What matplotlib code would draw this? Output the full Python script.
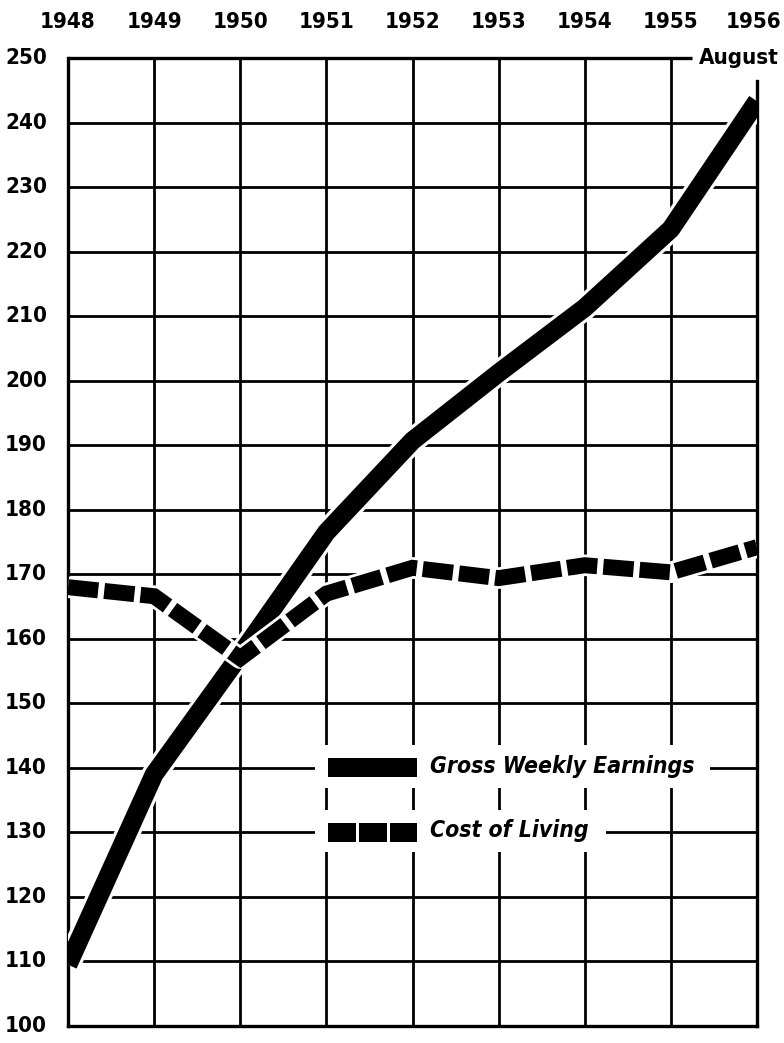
import matplotlib
matplotlib.use("Agg")
import matplotlib.pyplot as plt
from matplotlib.patches import Rectangle

years = [1948, 1949, 1950, 1951, 1952, 1953, 1954, 1955, 1956]
earnings = [109.5, 139.0, 157.5, 176.5, 190.7, 201.2, 211.3, 223.5, 243.3]
cost_of_living = [168.0, 166.6, 157.0, 167.0, 171.0, 169.4, 171.4, 170.3, 174.2]
y_ticks = list(range(100, 251, 10))
year_labels = [str(y) for y in years]

plt.rcParams['font.family'] = ['DejaVu Sans']
plt.rcParams['font.stretch'] = 'condensed'
plt.rcParams['font.weight'] = 'bold'

fig = plt.figure(figsize=(7.84, 10.43), dpi=100)
W, H = 784, 1043
L, R, T, B = 68, 757, 58, 1026
ax = fig.add_axes([L / W, 1 - B / H, (R - L) / W, (B - T) / H])
ax.set_xlim(years[0], years[-1])
ax.set_ylim(100, 250)

# grid
for y in y_ticks[1:-1]:
    ax.axhline(y, color='black', lw=2.0, zorder=1)
for x in years[1:-1]:
    ax.axvline(x, color='black', lw=2.0, zorder=1)
for s in ['left', 'bottom', 'right', 'top']:
    ax.spines[s].set_linewidth(2.4)
ax.spines['right'].set_bounds(100, 246.5)
ax.spines['top'].set_visible(False)
ax.plot([years[0], 1955.25], [250, 250], color='black', lw=2.4, clip_on=False,
        zorder=1, solid_capstyle='butt')

ax.set_xticks([])
ax.set_yticks([])

TXT = dict(fontsize=16, fontweight='bold', fontstretch='condensed')

# y labels
for y in y_ticks:
    fig.text(47 / W, ax.transData.transform((1948, y))[1] / (H), str(y),
             ha='right', va='center', **TXT)
# year labels
for x, lab in zip(years, year_labels):
    cx = L + (x - years[0]) / (years[-1] - years[0]) * (R - L)
    if x == years[-1]:
        cx = 754
    fig.text(cx / W, 1 - 22 / H, lab, ha='center', va='center', **TXT)
fig.text(779 / W, 1 - 58 / H, 'August', ha='right', va='center', **TXT)

# earnings line
ax.plot(years, earnings, color='white', lw=18, solid_joinstyle='round',
        solid_capstyle='butt', zorder=3)
ax.plot(years, earnings, color='black', lw=13.5, solid_joinstyle='round',
        solid_capstyle='butt', zorder=4)
# cost of living
ax.plot(years, cost_of_living, color='white', lw=15.5, solid_joinstyle='round',
        solid_capstyle='butt', zorder=5)
ax.plot(years, cost_of_living, color='black', lw=11.5, linestyle=(0, (1.9, 0.38)),
        dash_capstyle='butt', dash_joinstyle='miter', zorder=6)

# legend
def px(x, y):
    return (x - L) / (R - L), 1 - (y - T) / (B - T)

tr = ax.transAxes
for (x0, y0, x1, y1) in [(315, 745, 710, 788), (315, 810, 606, 852)]:
    a0 = px(x0, y1); a1 = px(x1, y0)
    ax.add_patch(Rectangle(a0, a1[0] - a0[0], a1[1] - a0[1], transform=tr,
                           facecolor='white', edgecolor='none', zorder=7))
a0 = px(328, 777); a1 = px(417, 758)
ax.add_patch(Rectangle(a0, a1[0] - a0[0], a1[1] - a0[1], transform=tr,
                       facecolor='black', edgecolor='none', zorder=8))
for (x0, x1) in [(328, 356), (359, 387), (390, 417)]:
    a0 = px(x0, 842); a1 = px(x1, 823)
    ax.add_patch(Rectangle(a0, a1[0] - a0[0], a1[1] - a0[1], transform=tr,
                           facecolor='black', edgecolor='none', zorder=8))
LEG = dict(fontsize=16.5, fontweight='bold', fontstyle='italic', fontstretch='condensed')
ax.text(*px(430, 766), 'Gross Weekly Earnings', transform=tr, ha='left', va='center',
        zorder=9, **LEG)
ax.text(*px(430, 831), 'Cost of Living', transform=tr, ha='left', va='center',
        zorder=9, **LEG)

fig.savefig('out.png', dpi=100, facecolor='white')
